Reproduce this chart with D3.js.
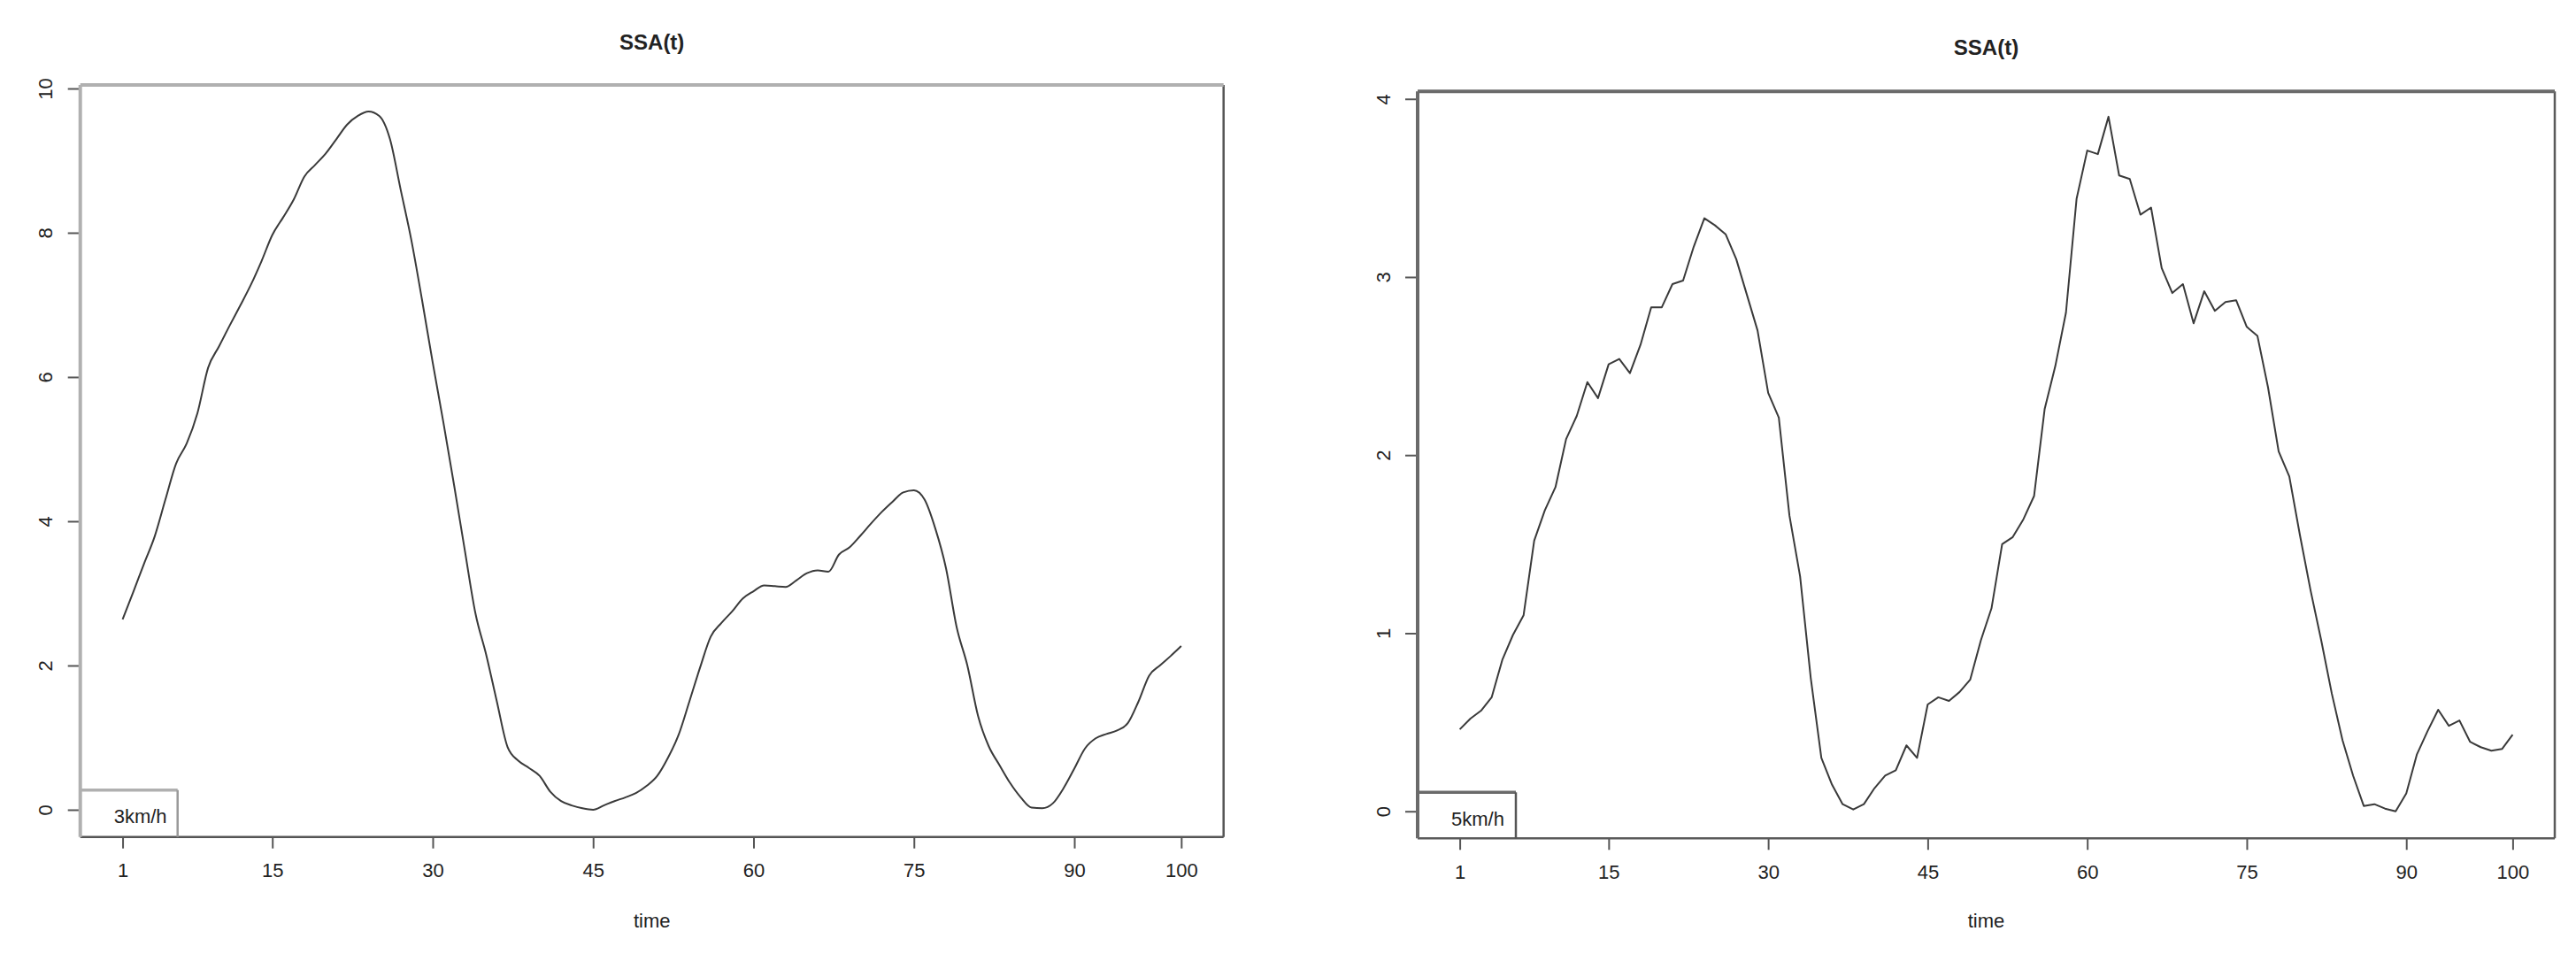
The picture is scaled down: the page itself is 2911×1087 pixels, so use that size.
<!DOCTYPE html>
<html>
<head>
<meta charset="utf-8">
<script src="https://cdn.jsdelivr.net/npm/d3@7"></script>
<style>
  html, body { margin: 0; padding: 0; background: #fff; }
  svg { display: block; }
  text { font-family: "Liberation Sans", Arial, sans-serif; fill: #222; }
</style>
</head>
<body>
<svg id="chart" width="2911" height="1087"></svg>
<script>
// ---------- data ----------
const timeIndex = d3.range(1, 101);
const xTickValues = [1, 15, 30, 45, 60, 75, 90, 100];
const yTicks3 = [0, 2, 4, 6, 8, 10];
const yTicks5 = [0, 1, 2, 3, 4];
const panelTitles = ["SSA(t)", "SSA(t)"];
const legendLabels = ["3km/h", "5km/h"];
const xAxisTitle = "time";

const ssa3 = [
  2.64, 3.02, 3.41, 3.79, 4.30, 4.80, 5.08, 5.50, 6.13, 6.42,
  6.71, 6.99, 7.28, 7.61, 7.97, 8.21, 8.46, 8.78, 8.94, 9.10,
  9.30, 9.50, 9.62, 9.68, 9.62, 9.30, 8.60, 7.90, 7.07, 6.20,
  5.37, 4.50, 3.60, 2.72, 2.15, 1.50, 0.87, 0.68, 0.58, 0.47,
  0.25, 0.12, 0.06, 0.02, 0.00, 0.06, 0.12, 0.17, 0.23, 0.33,
  0.47, 0.72, 1.04, 1.50, 1.97, 2.40, 2.59, 2.75, 2.93, 3.03,
  3.11, 3.10, 3.09, 3.18, 3.28, 3.32, 3.30, 3.54, 3.64, 3.80,
  3.97, 4.13, 4.27, 4.40, 4.43, 4.30, 3.90, 3.35, 2.53, 2.00,
  1.30, 0.88, 0.62, 0.37, 0.17, 0.03, 0.02, 0.09, 0.30, 0.57,
  0.85, 0.99, 1.05, 1.10, 1.20, 1.50, 1.86, 2.00, 2.13, 2.27
];

const ssa5 = [
  0.46, 0.52, 0.565, 0.64, 0.85, 0.99, 1.10, 1.52, 1.69, 1.82,
  2.09, 2.22, 2.41, 2.32, 2.51, 2.54, 2.46, 2.62, 2.83, 2.83,
  2.96, 2.98, 3.17, 3.33, 3.29, 3.24, 3.10, 2.90, 2.70, 2.35,
  2.21, 1.66, 1.32, 0.75, 0.30, 0.15, 0.04, 0.01, 0.04, 0.13,
  0.20, 0.23, 0.37, 0.30, 0.60, 0.64, 0.62, 0.67, 0.74, 0.96,
  1.14, 1.50, 1.54, 1.64, 1.77, 2.26, 2.50, 2.80, 3.44, 3.71,
  3.69, 3.90, 3.57, 3.55, 3.35, 3.39, 3.05, 2.91, 2.96, 2.74,
  2.92, 2.81, 2.86, 2.87, 2.72, 2.67, 2.38, 2.02, 1.88, 1.55,
  1.24, 0.96, 0.66, 0.40, 0.20, 0.03, 0.04, 0.015, 0.00, 0.10,
  0.32, 0.45, 0.57, 0.48, 0.51, 0.39, 0.36, 0.34, 0.35, 0.43
];

// ---------- drawing ----------
const svg = d3.select("#chart");

function drawPanel(cfg) {
  const { left, right, top, bottom, values, yTicks, yDomain, title, legend, titleY, frameLT, frameRB } = cfg;
  const g = svg.append("g");

  const xDom = [1 - 0.04 * 99, 100 + 0.04 * 99];
  const x = d3.scaleLinear().domain(xDom).range([left, right]);
  const y = d3.scaleLinear().domain(yDomain).range([bottom, top]);

  // line
  const line = d3.line().x((d, i) => x(timeIndex[i])).y(d => y(d)).curve(cfg.curve);
  g.append("path")
    .datum(values)
    .attr("d", line)
    .attr("fill", "none")
    .attr("stroke", "#3a3a3a")
    .attr("stroke-width", 2)
    .attr("stroke-linejoin", "round");

  // x axis
  const xAxis = d3.axisBottom(x).tickValues(xTickValues).tickSize(13).tickPadding(17).tickFormat(d3.format("d"));
  const gx = g.append("g").attr("transform", `translate(0,${bottom})`).call(xAxis);
  gx.select(".domain").remove();
  gx.selectAll(".tick line").attr("stroke", "#555").attr("stroke-width", 2);
  gx.selectAll(".tick text").attr("font-size", 22).attr("fill", "#333").attr("font-family", "'Liberation Sans', Arial, sans-serif");

  // y axis
  const yAxis = d3.axisLeft(y).tickValues(yTicks).tickSize(14).tickFormat(d3.format("d"));
  const gy = g.append("g").attr("transform", `translate(${left},0)`).call(yAxis);
  gy.select(".domain").remove();
  gy.selectAll(".tick line").attr("stroke", "#555").attr("stroke-width", 2);
  gy.selectAll(".tick text")
    .attr("font-size", 22).attr("fill", "#333")
    .attr("font-family", "'Liberation Sans', Arial, sans-serif")
    .attr("x", null).attr("dy", null)
    .attr("text-anchor", "middle")
    .attr("dominant-baseline", "central")
    .attr("transform", "translate(-39,0) rotate(-90)");

  // frame
  g.append("line").attr("x1", left).attr("x2", right).attr("y1", bottom).attr("y2", bottom)
    .attr("stroke", frameRB).attr("stroke-width", 2.5);
  g.append("line").attr("x1", right).attr("x2", right).attr("y1", top).attr("y2", bottom)
    .attr("stroke", frameRB).attr("stroke-width", 2.5);
  g.append("line").attr("x1", left).attr("x2", right).attr("y1", top).attr("y2", top)
    .attr("stroke", frameLT).attr("stroke-width", 4);
  g.append("line").attr("x1", left).attr("x2", left).attr("y1", top).attr("y2", bottom)
    .attr("stroke", frameLT).attr("stroke-width", 4);

  // legend box
  const legRight = left + cfg.legendW;
  const legTop = bottom - cfg.legendH;
  g.append("line").attr("x1", left).attr("x2", legRight).attr("y1", legTop).attr("y2", legTop)
    .attr("stroke", frameLT).attr("stroke-width", 3.5);
  g.append("line").attr("x1", legRight).attr("x2", legRight).attr("y1", legTop).attr("y2", bottom)
    .attr("stroke", cfg.legendSide).attr("stroke-width", 2.5);
  g.append("text")
    .attr("x", left + cfg.legendTextDx)
    .attr("y", bottom - cfg.legendTextDy)
    .attr("dominant-baseline", "central")
    .attr("font-size", 22).attr("fill", "#333")
    .text(legend);

  // title
  g.append("text")
    .attr("x", (left + right) / 2).attr("y", titleY)
    .attr("text-anchor", "middle").attr("dominant-baseline", "central")
    .attr("font-size", 24).attr("font-weight", "bold").attr("fill", "#111")
    .text(title);

  // x axis title
  g.append("text")
    .attr("x", (left + right) / 2).attr("y", 1040)
    .attr("text-anchor", "middle").attr("dominant-baseline", "central")
    .attr("font-size", 22).attr("fill", "#333")
    .text(xAxisTitle);
}

drawPanel({
  left: 90.7, right: 1382.7, top: 96, bottom: 945.7,
  values: ssa3, yTicks: yTicks3, yDomain: [-0.377, 10.049],
  title: panelTitles[0], legend: legendLabels[0], titleY: 47,
  frameLT: "#b0b0b0", frameRB: "#555", curve: d3.curveMonotoneX,
  legendW: 110, legendH: 53, legendTextDx: 38, legendTextDy: 23, legendSide: "#9a9a9a"
});

drawPanel({
  left: 1602, right: 2887, top: 103.3, bottom: 947.3,
  values: ssa5, yTicks: yTicks5, yDomain: [-0.152, 4.042],
  title: panelTitles[1], legend: legendLabels[1], titleY: 53,
  frameLT: "#6a6a6a", frameRB: "#5a5a5a", curve: d3.curveLinear,
  legendW: 111, legendH: 52, legendTextDx: 38, legendTextDy: 22, legendSide: "#555"
});
</script>
</body>
</html>
